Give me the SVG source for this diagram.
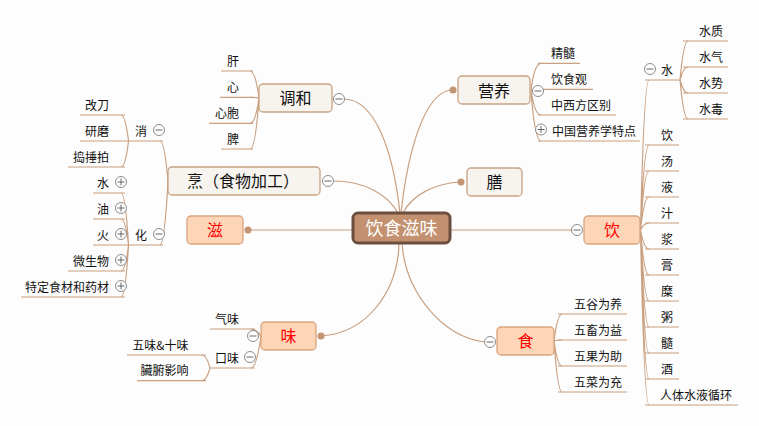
<svg xmlns="http://www.w3.org/2000/svg" xmlns:xlink="http://www.w3.org/1999/xlink" width="759" height="426" viewBox="0 0 759 426">
<style>
.c{fill:none;stroke:#c9a080;stroke-width:1.2}
.u{fill:none;stroke:#c9a080;stroke-width:1.2}
.t{font-family:"Noto Sans CJK SC","Noto Sans",sans-serif;font-size:12px;fill:#111}
.e{text-anchor:end}
.m{font-family:"Noto Sans CJK SC","Noto Sans",sans-serif;font-size:16px;fill:#111;text-anchor:middle}
.r{fill:#f00}
.tb{fill:#f7f3ee;stroke:#c9a282;stroke-width:1.3}
.pb{fill:#fdd6b7;stroke:#d9a47e;stroke-width:1.3}
.dot{fill:#c49573}
.ic{fill:#fff;stroke:#8c8c8c;stroke-width:1}
.ln{stroke:#666;stroke-width:1}
</style>
<defs>
<g id="minus"><circle class="ic" cx="0" cy="0" r="5.5"/><path class="ln" d="M-3.5 0H3.5"/></g>
<g id="plus"><circle class="ic" cx="0" cy="0" r="5.5"/><path class="ln" d="M-3.5 0H3.5M0 -3.5V3.5"/></g>
</defs>
<rect width="759" height="426" fill="#fdfdfd"/>

<g id="connectors">
<path class="c" d="M248 230L353 230"/>
<path class="c" d="M450 230L572 230"/>
<path class="c" d="M344.5 99C375 100 393 150 400 213"/>
<path class="c" d="M453 90C425 90 408 150 401 213"/>
<path class="c" d="M333.5 181C365 181 388 195 398 213"/>
<path class="c" d="M461 182C435 183 412 195 403 213"/>
<path class="c" d="M321 336C368 333 398 290 399 243"/>
<path class="c" d="M484.5 342C440 336 405 290 402 243"/>
<!-- 调和 -->
<path class="u" d="M259 98Q255.5 71 250 71M259 98Q255.5 97.3 250 97.3M259 98Q255.5 123.3 250 123.3M259 98Q255.5 149 250 149"/>
<path class="u" d="M221 71H253M220 97.3H253M209 123.3H253M221 149H253"/>
<!-- 烹 -->
<path class="u" d="M168 181Q164.5 141 160 141M168 181Q164.5 245 160 245"/>
<path class="u" d="M128 141H163M128 245H163"/>
<!-- 消 -->
<path class="u" d="M128.5 141Q125.5 115 121 115M128.5 141Q125.5 167 121 167"/>
<path class="u" d="M80 115H125M80 141H128M68 167H125"/>
<!-- 化 -->
<path class="u" d="M128.5 245Q125.5 193 121 193M128.5 245Q125.5 219 121 219M128.5 245Q125.5 271 121 271M128.5 245Q125.5 297 121 297"/>
<path class="u" d="M93 193H125M93 219H125M93 245H128M68 271H125M21 297H125"/>
<!-- 营养 -->
<path class="u" d="M531 90Q534.5 63.3 541 63.3M531 90Q534.5 89.3 541 89.3M531 90Q534.5 115 541 115M531 90Q534.5 141 541 141"/>
<path class="u" d="M538 63.3H580M538 89.3H593M538 115H616M538 141H640"/>
<!-- 饮 -->
<path class="u" d="M640.5 230Q644 80 649 80M640.5 230Q644 145 649 145M640.5 230Q644 171 649 171M640.5 230Q644 197 649 197M640.5 230Q644 223 649 223M640.5 230Q644 249 649 249M640.5 230Q644 275 649 275M640.5 230Q644 301 649 301M640.5 230Q644 327 649 327M640.5 230Q644 353 649 353M640.5 230Q644 379 649 379M640.5 230Q644 405 649 405"/>
<path class="u" d="M645 80H680M645 145H679M645 171H679M645 197H679M645 223H679M645 249H679M645 275H679M645 301H679M645 327H679M645 353H679M645 379H679M645 405H738"/>
<!-- 水 -->
<path class="u" d="M680 80Q683.5 41 688 41M680 80Q683.5 67 688 67M680 80Q683.5 93 688 93M680 80Q683.5 119 688 119"/>
<path class="u" d="M683 41H728M683 67H728M683 93H728M683 119H728"/>
<!-- 食 -->
<path class="u" d="M554 341Q557.5 314 562 314M554 341Q557.5 340 562 340M554 341Q557.5 366 562 366M554 341Q557.5 392 562 392"/>
<path class="u" d="M558 314H627M558 340H627M558 366H627M558 392H627"/>
<!-- 味 -->
<path class="u" d="M261 336Q256.5 329 251 329M261 336Q256.5 368 251 368"/>
<path class="u" d="M210 329H255M210 368H255"/>
<!-- 口味 -->
<path class="u" d="M210 368Q206.5 355 202 355M210 368Q206.5 380.7 202 380.7"/>
<path class="u" d="M127 355H206M137 380.7H206"/>
</g>

<g id="center">
<rect x="353" y="213" width="97" height="30" rx="5" fill="#c3916f" stroke="#6b4e3d" stroke-width="3"/>
<text class="m" x="401.5" y="235" style="font-size:18px;fill:#fff">饮食滋味</text>
</g>

<g id="tiaohe">
<rect class="tb" x="259" y="84" width="73" height="28" rx="4"/>
<text class="m" x="295.5" y="104">调和</text>
<use xlink:href="#minus" x="339" y="99"/>
<text class="t e" x="239" y="65.5">肝</text>
<text class="t e" x="239" y="92">心</text>
<text class="t e" x="239" y="118">心胞</text>
<text class="t e" x="239" y="143.5">脾</text>
</g>

<g id="peng">
<rect class="tb" x="168" y="167" width="152" height="28" rx="4"/>
<text class="m" x="187" y="187" style="text-anchor:start">烹（食物加工）</text>
<use xlink:href="#minus" x="328" y="181"/>
</g>

<g id="xiao">
<text class="t e" x="147" y="135.5">消</text>
<use xlink:href="#minus" x="159" y="130"/>
<text class="t e" x="109" y="109.5">改刀</text>
<text class="t e" x="109" y="135.5">研磨</text>
<text class="t e" x="109" y="161.5">捣捶拍</text>
</g>

<g id="hua">
<text class="t e" x="147" y="239.5">化</text>
<use xlink:href="#minus" x="159" y="234"/>
<text class="t e" x="109" y="187.5">水</text>
<use xlink:href="#plus" x="121" y="182"/>
<text class="t e" x="109" y="213.5">油</text>
<use xlink:href="#plus" x="121" y="208"/>
<text class="t e" x="109" y="239.5">火</text>
<use xlink:href="#plus" x="121" y="234"/>
<text class="t e" x="109" y="265.5">微生物</text>
<use xlink:href="#plus" x="121" y="260"/>
<text class="t e" x="109" y="291.5">特定食材和药材</text>
<use xlink:href="#plus" x="121" y="286"/>
</g>

<g id="zi">
<rect class="pb" x="187" y="216" width="56" height="28" rx="4"/>
<text class="m r" x="215" y="236">滋</text>
<circle class="dot" cx="248" cy="230" r="3.5"/>
</g>

<g id="yingyang">
<rect class="tb" x="458" y="76" width="72" height="28" rx="4"/>
<text class="m" x="494" y="96.5">营养</text>
<circle class="dot" cx="453" cy="90" r="3.5"/>
<use xlink:href="#minus" x="538" y="91"/>
<text class="t" x="551" y="57.5">精髓</text>
<text class="t" x="551" y="83.5">饮食观</text>
<text class="t" x="551" y="109.5">中西方区别</text>
<use xlink:href="#plus" x="541" y="129.5"/>
<text class="t" x="552" y="135.5">中国营养学特点</text>
</g>

<g id="shan">
<rect class="tb" x="467" y="168" width="55" height="28" rx="4"/>
<text class="m" x="494.5" y="188">膳</text>
<circle class="dot" cx="461" cy="182" r="3.5"/>
</g>

<g id="yin">
<rect class="pb" x="584" y="216" width="56" height="28" rx="4"/>
<text class="m r" x="612" y="236">饮</text>
<use xlink:href="#minus" x="577" y="230"/>
<text class="t" x="661" y="139.5">饮</text>
<text class="t" x="661" y="165.5">汤</text>
<text class="t" x="661" y="191.5">液</text>
<text class="t" x="661" y="217.5">汁</text>
<text class="t" x="661" y="243.5">浆</text>
<text class="t" x="661" y="269.5">膏</text>
<text class="t" x="661" y="295.5">糜</text>
<text class="t" x="661" y="321.5">粥</text>
<text class="t" x="661" y="347.5">髓</text>
<text class="t" x="661" y="373.5">酒</text>
<text class="t" x="660" y="399.5">人体水液循环</text>
</g>

<g id="shui">
<use xlink:href="#minus" x="650" y="69"/>
<text class="t" x="661" y="74.5">水</text>
<text class="t" x="699" y="35.5">水质</text>
<text class="t" x="699" y="61.5">水气</text>
<text class="t" x="699" y="87.5">水势</text>
<text class="t" x="699" y="113.5">水毒</text>
</g>

<g id="shi">
<rect class="pb" x="497" y="327" width="57" height="28" rx="4"/>
<text class="m r" x="525.5" y="347">食</text>
<use xlink:href="#minus" x="490" y="342"/>
<text class="t" x="574" y="308.5">五谷为养</text>
<text class="t" x="574" y="334.5">五畜为益</text>
<text class="t" x="574" y="360.5">五果为助</text>
<text class="t" x="574" y="386.5">五菜为充</text>
</g>

<g id="wei">
<rect class="pb" x="261" y="322" width="55" height="28" rx="4"/>
<text class="m r" x="288.5" y="342">味</text>
<circle class="dot" cx="321" cy="336" r="3.5"/>
<use xlink:href="#minus" x="253" y="336"/>
<text class="t e" x="239" y="323.5">气味</text>
<text class="t e" x="239" y="362.5">口味</text>
<use xlink:href="#minus" x="250" y="357"/>
<text class="t e" x="188.5" y="349.5">五味&amp;十味</text>
<text class="t e" x="188.5" y="375">臟腑影响</text>
</g>
</svg>
